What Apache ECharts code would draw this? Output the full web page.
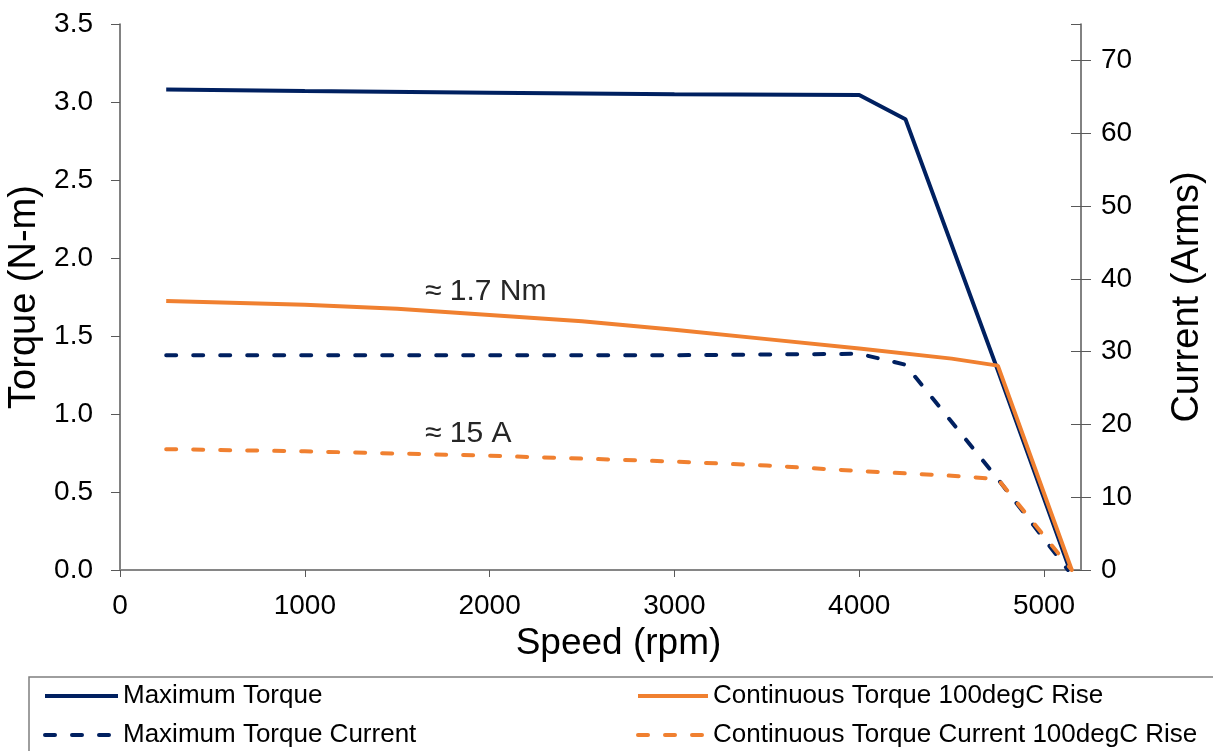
<!DOCTYPE html>
<html>
<head>
<meta charset="utf-8">
<script src="https://cdn.jsdelivr.net/npm/echarts@6/dist/echarts.min.js"></script>
<style>
  html, body { margin: 0; padding: 0; background: #fff; }
  #chart { width: 1213px; height: 751px; }
</style>
</head>
<body>
<div id="chart"></div>
<script>
var chart = echarts.init(document.getElementById('chart'));
var navy = '#002060';
var orange = '#F08030';
var font = 'Liberation Sans, Arial, sans-serif';

// data (speed in rpm)
var maxTorqueSpeed = [250, 1000, 2000, 3000, 4000, 4250, 4750, 5140];
var maxTorque = [3.08, 3.07, 3.06, 3.05, 3.045, 2.89, 1.28, 0];

var contTorqueSpeed = [250, 1000, 1500, 2000, 2500, 3000, 3500, 4000, 4500, 4750, 5150];
var contTorque = [1.724, 1.70, 1.675, 1.635, 1.595, 1.54, 1.48, 1.42, 1.355, 1.31, 0];

var maxCurrentSpeed = [250, 1000, 2000, 3000, 4000, 4250, 4750, 5130];
var maxCurrent = [29.5, 29.5, 29.5, 29.5, 29.7, 28.2, 12.5, 0];

var contCurrentSpeed = [250, 1000, 1500, 2000, 2500, 3000, 3500, 4000, 4500, 4750, 5150];
var contCurrent = [16.6, 16.3, 16.0, 15.7, 15.3, 14.9, 14.35, 13.6, 12.95, 12.5, 0];

var seriesNames = ['Maximum Torque', 'Continuous Torque 100degC Rise',
  'Maximum Torque Current', 'Continuous Torque Current 100degC Rise'];

function pairs(xs, ys) {
  return xs.map(function (x, i) { return [x, ys[i]]; });
}

function lineSeries(name, data, color, dashed, axis) {
  return {
    name: name,
    type: 'line',
    yAxisIndex: axis,
    symbol: 'none',
    animation: false,
    lineStyle: {
      color: color,
      width: 4,
      type: dashed ? [10, 17] : 'solid',
      cap: dashed ? 'round' : 'butt'
    },
    itemStyle: { color: color },
    data: data
  };
}

// one legend per entry so the two-column box can be placed like the original
function legendItem(name, left, top, width) {
  return {
    data: [name],
    left: left, top: top,
    itemWidth: width, itemHeight: 14,
    itemStyle: { opacity: 0 },
    lineStyle: { width: 4 },
    selectedMode: false,
    textStyle: { fontSize: 26, color: '#000', fontFamily: font }
  };
}

var option = {
  backgroundColor: '#fff',
  textStyle: { fontFamily: font },
  grid: { left: 120, right: 132, top: 24, bottom: 181, outerBoundsMode: 'none', containLabel: false },
  legend: [
    legendItem(seriesNames[0], 38, 678, 73),
    legendItem(seriesNames[2], 38, 717, 73),
    legendItem(seriesNames[1], 631, 678, 70),
    legendItem(seriesNames[3], 631, 717, 70)
  ],
  xAxis: {
    type: 'value',
    min: 0, max: 5200, interval: 1000,
    name: 'Speed (rpm)',
    nameLocation: 'middle',
    nameGap: 55,
    nameTextStyle: { fontSize: 37, color: '#000', padding: [0, 0, 0, 36] },
    axisLine: { lineStyle: { color: '#868686', width: 2 } },
    axisTick: { show: true, length: 7, lineStyle: { color: '#595959' } },
    axisLabel: {
      fontSize: 28, color: '#000', margin: 22, showMaxLabel: false,
      formatter: function (v) { return v > 5000 ? '' : String(v); }
    },
    splitLine: { show: false }
  },
  yAxis: [{
    type: 'value',
    min: 0, max: 3.5, interval: 0.5,
    name: 'Torque (N-m)',
    nameLocation: 'middle',
    nameRotate: 90,
    nameGap: 68,
    nameTextStyle: { fontSize: 38, color: '#000' },
    axisLine: { show: true, lineStyle: { color: '#595959', width: 1.5 } },
    axisTick: { show: true, length: 9, lineStyle: { color: '#595959' } },
    axisLabel: {
      fontSize: 28, color: '#000', margin: 27,
      formatter: function (v) { return v.toFixed(1); }
    },
    splitLine: { show: false }
  }, {
    type: 'value',
    position: 'right',
    min: 0, max: 75, interval: 10,
    name: 'Current (Arms)',
    nameLocation: 'middle',
    nameRotate: 90,
    nameGap: 88,
    nameTextStyle: { fontSize: 38, color: '#000' },
    axisLine: { show: true, lineStyle: { color: '#595959', width: 1.5 } },
    axisTick: { show: true, length: 10, lineStyle: { color: '#595959' } },
    axisLabel: {
      fontSize: 28, color: '#000', margin: 20, showMaxLabel: false,
      formatter: function (v) { return v > 70 ? '' : String(v); }
    },
    splitLine: { show: false }
  }, {
    // inner half of the crossing ticks on the current axis
    type: 'value',
    position: 'right',
    min: 0, max: 75, interval: 10,
    axisLine: { show: false },
    axisTick: { show: true, inside: true, length: 10, lineStyle: { color: '#595959' } },
    axisLabel: { show: false },
    splitLine: { show: false }
  }],
  graphic: [{
    type: 'rect',
    shape: { x: 29, y: 677, width: 1200, height: 90 },
    style: { fill: 'none', stroke: '#7f7f7f', lineWidth: 1.5 },
    silent: true
  }, {
    type: 'text',
    left: 425, top: 277,
    style: { text: '≈ 1.7 Nm', font: '30px ' + font, fill: '#262626' }
  }, {
    type: 'text',
    left: 425, top: 419,
    style: { text: '≈ 15 A', font: '30px ' + font, fill: '#262626' }
  }],
  series: [
    lineSeries(seriesNames[0], pairs(maxTorqueSpeed, maxTorque), navy, false, 0),
    lineSeries(seriesNames[1], pairs(contTorqueSpeed, contTorque), orange, false, 0),
    lineSeries(seriesNames[2], pairs(maxCurrentSpeed, maxCurrent), navy, true, 1),
    lineSeries(seriesNames[3], pairs(contCurrentSpeed, contCurrent), orange, true, 1)
  ]
};

chart.setOption(option);
</script>
</body>
</html>
